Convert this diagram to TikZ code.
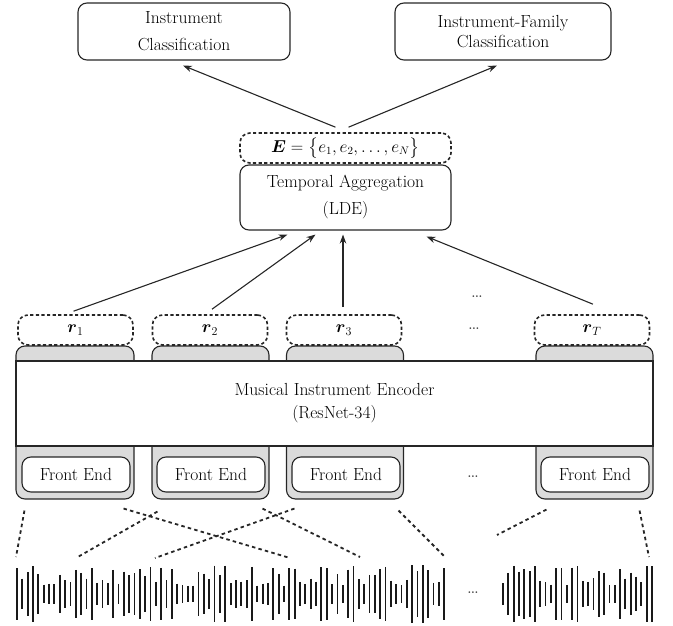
\documentclass[tikz,border=0pt]{standalone}
\usepackage{amsmath}
\usepackage{tikz}
\usetikzlibrary{positioning,calc,arrows.meta}
\tikzstyle{box}=[draw=black!85, rounded corners=9pt, line width=1.1pt, align=center, inner sep=0pt]
\tikzstyle{emb}=[draw=black!85, dash pattern=on 3.2pt off 2.4pt, rounded corners=10pt, line width=1.6pt, inner sep=0pt]
\tikzstyle{tab}=[draw=black!85, fill=black!14, rounded corners=9pt, line width=1.1pt, inner sep=0pt]
\tikzstyle{win}=[draw=black!85, dash pattern=on 3.5pt off 3.2pt, line width=1.8pt]
\tikzstyle{arr}=[draw=black!85, -{Stealth[length=9pt,width=6.5pt]}, line width=1.1pt]
\tikzstyle{dots}=[text=black!75, inner sep=0pt, font=\fontsize{21}{21}\selectfont]

\begin{document}
\begin{tikzpicture}[x=1pt,y=-1pt,font=\fontsize{17.5}{27}\selectfont]
\useasboundingbox (0,0) rectangle (673,626);
% outputs
\node[box, minimum width=212pt, minimum height=57pt] at (184,31.5) (cls) {Instrument\\Classification};
\node[box, minimum width=216pt, minimum height=57pt] at (503,31.5) (fam) {Instrument-Family\\[-7pt]Classification};
% aggregation
\node[emb, minimum width=211pt, minimum height=30pt, font=\fontsize{16}{20}\selectfont] at (345.5,148) (emb) {$\boldsymbol{E}=\big\{e_1,e_2,\ldots,e_N\big\}$};
\node[box, minimum width=211pt, minimum height=65pt] at (345.5,197.5) (tagg) {Temporal Aggregation\\(LDE)};
% encoder with front ends
\node[tab, minimum width=118pt, minimum height=153pt] at (75,422.5) (tab1) {};
\node[tab, minimum width=117pt, minimum height=153pt] at (210.5,422.5) (tab2) {};
\node[tab, minimum width=117pt, minimum height=153pt] at (345,422.5) (tab3) {};
\node[tab, minimum width=117pt, minimum height=153pt] at (594.5,422.5) (tabT) {};
\node[draw=black!85, fill=white, line width=1.4pt, minimum width=637pt, minimum height=85pt, align=center, inner sep=0pt] at (334.5,403.5) (enc) {Musical Instrument Encoder\\[-4pt](ResNet-34)};
\node[box, fill=white, minimum width=108pt, minimum height=35pt] at (76,474.5) (fe1) {Front End};
\node[box, fill=white, minimum width=108pt, minimum height=35pt] at (211,474.5) (fe2) {Front End};
\node[box, fill=white, minimum width=108pt, minimum height=35pt] at (346,474.5) (fe3) {Front End};
\node[box, fill=white, minimum width=108pt, minimum height=35pt] at (595,474.5) (feT) {Front End};
% frame embeddings
\node[emb, minimum width=115pt, minimum height=30pt] at (75.5,330) (r1) {$\boldsymbol{r}_1$};
\node[emb, minimum width=115pt, minimum height=30pt] at (210,330) (r2) {$\boldsymbol{r}_2$};
\node[emb, minimum width=115pt, minimum height=30pt] at (344,330) (r3) {$\boldsymbol{r}_3$};
\node[emb, minimum width=115pt, minimum height=30pt] at (592,330) (rT) {$\boldsymbol{r}_T$};
\node[dots] at (477,297) (dots1) {\dots};
\node[dots] at (474,329) (dots2) {\dots};
\node[dots] at (473,477) (dots3) {\dots};
\node[dots] at (473,593) (dots4) {\dots};
% arrows
\draw[arr] ([xshift=-10pt,yshift=5pt]emb.north) -- ([xshift=-1pt,yshift=-5pt]cls.south);
\draw[arr] ([xshift=3pt,yshift=5pt]emb.north) -- ([xshift=-6pt,yshift=-5pt]fam.south);
\draw[arr] ([xshift=-2pt,yshift=3pt]r1.north) -- ([xshift=-58pt,yshift=-4pt]tagg.south);
\draw[arr] ([xshift=2pt,yshift=5pt]r2.north) -- ([xshift=-30pt,yshift=-4pt]tagg.south);
\draw[arr] ([xshift=-1pt,yshift=7pt]r3.north) -- ([xshift=-2.5pt,yshift=-4pt]tagg.south);
\draw[arr] ([xshift=1pt,yshift=10pt]rT.north) -- ([xshift=81pt,yshift=-6pt]tagg.south);
% windows on the waveform
\coordinate (w1) at (16,557);
\coordinate (w2) at (290,558);
\coordinate (w3) at (76,558);
\coordinate (w4) at (360,557);
\coordinate (w5) at (155,558);
\coordinate (w6) at (445,557);
\coordinate (w7) at (497,535);
\coordinate (w8) at (649,557);
\draw[win] ([xshift=9pt,yshift=-11pt]tab1.south west) -- (w1);
\draw[win] ([xshift=-11pt,yshift=-9pt]tab1.south east) -- (w2);
\draw[win] ([xshift=6pt,yshift=-12pt]tab2.south west) -- (w3);
\draw[win] ([xshift=-7pt,yshift=-9pt]tab2.south east) -- (w4);
\draw[win] ([xshift=8.5pt,yshift=-9pt]tab3.south west) -- (w5);
\draw[win] ([xshift=-5.5pt,yshift=-11pt]tab3.south east) -- (w6);
\draw[win] ([xshift=11pt,yshift=-10pt]tabT.south west) -- (w7);
\draw[win] ([xshift=-14pt,yshift=-11pt]tabT.south east) -- (w8);
% waveform
\pgfmathsetseed{17}
\foreach \i in {0,...,80}{
  \pgfmathsetmacro\h{8+21*rnd}
  \draw[black!90, line width=1.8pt] (17+\i*5.34,594-\h) -- (17+\i*5.34,594+\h);
}
\foreach \i in {0,...,28}{
  \pgfmathsetmacro\h{8+21*rnd}
  \draw[black!90, line width=1.8pt] (503+\i*5.32,594-\h) -- (503+\i*5.32,594+\h);
}
\end{tikzpicture}
\end{document}
